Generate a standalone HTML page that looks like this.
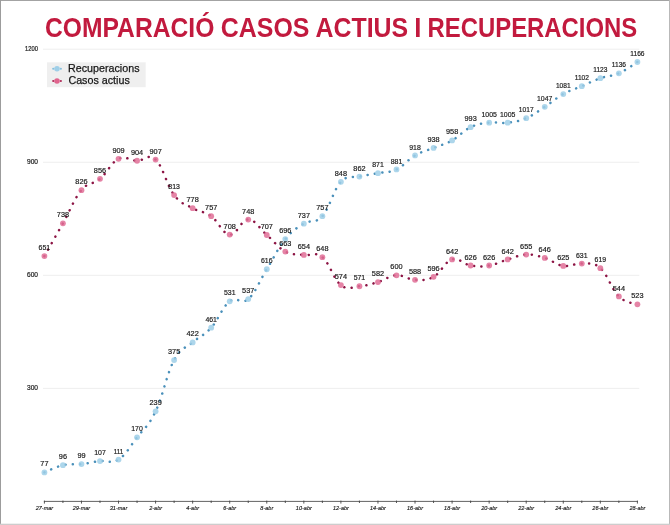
<!DOCTYPE html>
<html lang="ca"><head><meta charset="utf-8"><title>Comparació casos actius i recuperacions</title>
<style>
html,body{margin:0;padding:0;background:#fff;}
body{width:670px;height:525px;overflow:hidden;position:relative;font-family:"Liberation Sans",sans-serif;}
svg{position:absolute;left:0;top:0;display:block;}
text{font-family:"Liberation Sans",sans-serif;}
</style></head><body>
<svg width="670" height="525" viewBox="0 0 670 525">
<rect x="0" y="0" width="670" height="525" fill="#ffffff"/>

<line x1="43" x2="639.3" y1="388.35" y2="388.35" stroke="#eeeeee" stroke-width="1"/>
<text transform="translate(38,390.25) scale(1.00,1)" font-size="6.6" text-anchor="end" fill="#222" stroke="#222" stroke-width="0.2">300</text>
<line x1="43" x2="639.3" y1="275.30" y2="275.30" stroke="#eeeeee" stroke-width="1"/>
<text transform="translate(38,277.20) scale(1.00,1)" font-size="6.6" text-anchor="end" fill="#222" stroke="#222" stroke-width="0.2">600</text>
<line x1="43" x2="639.3" y1="162.25" y2="162.25" stroke="#eeeeee" stroke-width="1"/>
<text transform="translate(38,164.15) scale(1.00,1)" font-size="6.6" text-anchor="end" fill="#222" stroke="#222" stroke-width="0.2">900</text>
<line x1="43" x2="639.3" y1="49.20" y2="49.20" stroke="#eeeeee" stroke-width="1"/>
<text transform="translate(38,51.10) scale(0.88,1)" font-size="6.6" text-anchor="end" fill="#222" stroke="#222" stroke-width="0.2">1200</text>
<text y="37.0" font-size="27.8" font-weight="bold" fill="#c21a3e"><tspan x="45.00" textLength="169.33" lengthAdjust="spacingAndGlyphs">COMPARACIÓ</tspan> <tspan x="220.79" textLength="88.60" lengthAdjust="spacingAndGlyphs">CASOS</tspan> <tspan x="315.53" textLength="92.65" lengthAdjust="spacingAndGlyphs">ACTIUS</tspan> <tspan x="414.17" textLength="7.15" lengthAdjust="spacingAndGlyphs">I</tspan> <tspan x="427.49" textLength="209.81" lengthAdjust="spacingAndGlyphs">RECUPERACIONS</tspan></text>
<rect x="47" y="62.3" width="98.7" height="24.9" fill="#efefef"/>
<line x1="53.2" x2="60.9" y1="68.7" y2="68.7" stroke="#86c0de" stroke-width="2.1" stroke-linecap="round" stroke-dasharray="0.1 7.5"/>
<circle cx="57" cy="68.7" r="2.8" fill="#9fcfe8"/>
<text x="68.08" y="72.1" font-size="11.7" fill="#161616" stroke="#161616" stroke-width="0.25" textLength="71.45" lengthAdjust="spacingAndGlyphs">Recuperacions</text>
<line x1="53.2" x2="60.9" y1="81.0" y2="81.0" stroke="#b02a58" stroke-width="2.1" stroke-linecap="round" stroke-dasharray="0.1 7.5"/>
<circle cx="57" cy="81.0" r="2.8" fill="#e0648e"/>
<text x="68.43" y="84.4" font-size="11.7" fill="#161616" stroke="#161616" stroke-width="0.25" textLength="61.36" lengthAdjust="spacingAndGlyphs">Casos actius</text>
<line x1="43.9" x2="637.9" y1="501.4" y2="501.4" stroke="#3a3a3a" stroke-width="0.8"/>
<line x1="44.40" x2="44.40" y1="500.6" y2="503.6" stroke="#444" stroke-width="0.9"/>
<text transform="translate(44.40,509.8) scale(0.97,1)" font-size="5.7" font-style="italic" text-anchor="middle" fill="#222" stroke="#222" stroke-width="0.15">27-mar</text>
<line x1="62.93" x2="62.93" y1="500.6" y2="503.0" stroke="#444" stroke-width="0.9"/>
<line x1="81.46" x2="81.46" y1="500.6" y2="503.6" stroke="#444" stroke-width="0.9"/>
<text transform="translate(81.46,509.8) scale(0.97,1)" font-size="5.7" font-style="italic" text-anchor="middle" fill="#222" stroke="#222" stroke-width="0.15">29-mar</text>
<line x1="99.99" x2="99.99" y1="500.6" y2="503.0" stroke="#444" stroke-width="0.9"/>
<line x1="118.53" x2="118.53" y1="500.6" y2="503.6" stroke="#444" stroke-width="0.9"/>
<text transform="translate(118.53,509.8) scale(0.97,1)" font-size="5.7" font-style="italic" text-anchor="middle" fill="#222" stroke="#222" stroke-width="0.15">31-mar</text>
<line x1="137.06" x2="137.06" y1="500.6" y2="503.0" stroke="#444" stroke-width="0.9"/>
<line x1="155.59" x2="155.59" y1="500.6" y2="503.6" stroke="#444" stroke-width="0.9"/>
<text transform="translate(155.59,509.8) scale(0.97,1)" font-size="5.7" font-style="italic" text-anchor="middle" fill="#222" stroke="#222" stroke-width="0.15">2-abr</text>
<line x1="174.12" x2="174.12" y1="500.6" y2="503.0" stroke="#444" stroke-width="0.9"/>
<line x1="192.65" x2="192.65" y1="500.6" y2="503.6" stroke="#444" stroke-width="0.9"/>
<text transform="translate(192.65,509.8) scale(0.97,1)" font-size="5.7" font-style="italic" text-anchor="middle" fill="#222" stroke="#222" stroke-width="0.15">4-abr</text>
<line x1="211.18" x2="211.18" y1="500.6" y2="503.0" stroke="#444" stroke-width="0.9"/>
<line x1="229.71" x2="229.71" y1="500.6" y2="503.6" stroke="#444" stroke-width="0.9"/>
<text transform="translate(229.71,509.8) scale(0.97,1)" font-size="5.7" font-style="italic" text-anchor="middle" fill="#222" stroke="#222" stroke-width="0.15">6-abr</text>
<line x1="248.24" x2="248.24" y1="500.6" y2="503.0" stroke="#444" stroke-width="0.9"/>
<line x1="266.77" x2="266.77" y1="500.6" y2="503.6" stroke="#444" stroke-width="0.9"/>
<text transform="translate(266.77,509.8) scale(0.97,1)" font-size="5.7" font-style="italic" text-anchor="middle" fill="#222" stroke="#222" stroke-width="0.15">8-abr</text>
<line x1="285.31" x2="285.31" y1="500.6" y2="503.0" stroke="#444" stroke-width="0.9"/>
<line x1="303.84" x2="303.84" y1="500.6" y2="503.6" stroke="#444" stroke-width="0.9"/>
<text transform="translate(303.84,509.8) scale(0.97,1)" font-size="5.7" font-style="italic" text-anchor="middle" fill="#222" stroke="#222" stroke-width="0.15">10-abr</text>
<line x1="322.37" x2="322.37" y1="500.6" y2="503.0" stroke="#444" stroke-width="0.9"/>
<line x1="340.90" x2="340.90" y1="500.6" y2="503.6" stroke="#444" stroke-width="0.9"/>
<text transform="translate(340.90,509.8) scale(0.97,1)" font-size="5.7" font-style="italic" text-anchor="middle" fill="#222" stroke="#222" stroke-width="0.15">12-abr</text>
<line x1="359.43" x2="359.43" y1="500.6" y2="503.0" stroke="#444" stroke-width="0.9"/>
<line x1="377.96" x2="377.96" y1="500.6" y2="503.6" stroke="#444" stroke-width="0.9"/>
<text transform="translate(377.96,509.8) scale(0.97,1)" font-size="5.7" font-style="italic" text-anchor="middle" fill="#222" stroke="#222" stroke-width="0.15">14-abr</text>
<line x1="396.49" x2="396.49" y1="500.6" y2="503.0" stroke="#444" stroke-width="0.9"/>
<line x1="415.02" x2="415.02" y1="500.6" y2="503.6" stroke="#444" stroke-width="0.9"/>
<text transform="translate(415.02,509.8) scale(0.97,1)" font-size="5.7" font-style="italic" text-anchor="middle" fill="#222" stroke="#222" stroke-width="0.15">16-abr</text>
<line x1="433.56" x2="433.56" y1="500.6" y2="503.0" stroke="#444" stroke-width="0.9"/>
<line x1="452.09" x2="452.09" y1="500.6" y2="503.6" stroke="#444" stroke-width="0.9"/>
<text transform="translate(452.09,509.8) scale(0.97,1)" font-size="5.7" font-style="italic" text-anchor="middle" fill="#222" stroke="#222" stroke-width="0.15">18-abr</text>
<line x1="470.62" x2="470.62" y1="500.6" y2="503.0" stroke="#444" stroke-width="0.9"/>
<line x1="489.15" x2="489.15" y1="500.6" y2="503.6" stroke="#444" stroke-width="0.9"/>
<text transform="translate(489.15,509.8) scale(0.97,1)" font-size="5.7" font-style="italic" text-anchor="middle" fill="#222" stroke="#222" stroke-width="0.15">20-abr</text>
<line x1="507.68" x2="507.68" y1="500.6" y2="503.0" stroke="#444" stroke-width="0.9"/>
<line x1="526.21" x2="526.21" y1="500.6" y2="503.6" stroke="#444" stroke-width="0.9"/>
<text transform="translate(526.21,509.8) scale(0.97,1)" font-size="5.7" font-style="italic" text-anchor="middle" fill="#222" stroke="#222" stroke-width="0.15">22-abr</text>
<line x1="544.74" x2="544.74" y1="500.6" y2="503.0" stroke="#444" stroke-width="0.9"/>
<line x1="563.27" x2="563.27" y1="500.6" y2="503.6" stroke="#444" stroke-width="0.9"/>
<text transform="translate(563.27,509.8) scale(0.97,1)" font-size="5.7" font-style="italic" text-anchor="middle" fill="#222" stroke="#222" stroke-width="0.15">24-abr</text>
<line x1="581.81" x2="581.81" y1="500.6" y2="503.0" stroke="#444" stroke-width="0.9"/>
<line x1="600.34" x2="600.34" y1="500.6" y2="503.6" stroke="#444" stroke-width="0.9"/>
<text transform="translate(600.34,509.8) scale(0.97,1)" font-size="5.7" font-style="italic" text-anchor="middle" fill="#222" stroke="#222" stroke-width="0.15">26-abr</text>
<line x1="618.87" x2="618.87" y1="500.6" y2="503.0" stroke="#444" stroke-width="0.9"/>
<line x1="637.40" x2="637.40" y1="500.6" y2="503.6" stroke="#444" stroke-width="0.9"/>
<text transform="translate(637.40,509.8) scale(0.97,1)" font-size="5.7" font-style="italic" text-anchor="middle" fill="#222" stroke="#222" stroke-width="0.15">28-abr</text>
<path d="M44.40,256.08 C48.11,249.52 55.52,236.49 62.93,223.30 C70.34,210.11 74.05,199.03 81.46,190.14 C88.88,181.24 92.58,185.09 99.99,178.83 C107.41,172.58 111.11,162.48 118.53,158.86 C125.94,155.24 129.64,160.59 137.06,160.74 C144.47,160.89 148.18,152.75 155.59,159.61 C163.00,166.47 166.71,185.31 174.12,195.03 C181.53,204.76 185.24,204.00 192.65,208.22 C200.06,212.44 203.77,210.86 211.18,216.14 C218.59,221.41 222.30,233.92 229.71,234.60 C237.12,235.28 240.83,219.45 248.24,219.53 C255.66,219.60 259.36,228.57 266.77,234.98 C274.19,241.39 277.89,247.57 285.31,251.56 C292.72,255.55 296.42,253.82 303.84,254.95 C311.25,256.08 314.96,251.18 322.37,257.21 C329.78,263.24 333.49,279.29 340.90,285.10 C348.31,290.90 352.02,286.83 359.43,286.23 C366.84,285.63 370.55,284.27 377.96,282.08 C385.38,279.90 389.08,275.75 396.49,275.30 C403.91,274.85 407.61,279.52 415.02,279.82 C422.44,280.12 426.14,280.88 433.56,276.81 C440.97,272.74 444.67,261.73 452.09,259.47 C459.50,257.21 463.21,264.30 470.62,265.50 C478.03,266.71 481.74,266.71 489.15,265.50 C496.56,264.30 500.27,261.66 507.68,259.47 C515.09,257.29 518.80,254.88 526.21,254.57 C533.62,254.27 537.33,255.70 544.74,257.97 C552.16,260.23 555.86,264.75 563.27,265.88 C570.69,267.01 574.39,263.17 581.81,263.62 C589.22,264.07 592.92,261.58 600.34,268.14 C607.75,274.70 611.46,289.17 618.87,296.40 C626.28,303.64 633.69,302.73 637.40,304.32" fill="none" stroke="#8c1444" stroke-width="2.5" stroke-linecap="round" stroke-dasharray="0.1 7.35"/>
<circle cx="44.40" cy="256.08" r="2.9" fill="#e06e96" fill-opacity="0.85"/>
<circle cx="62.93" cy="223.30" r="2.9" fill="#e06e96" fill-opacity="0.85"/>
<circle cx="81.46" cy="190.14" r="2.9" fill="#e06e96" fill-opacity="0.85"/>
<circle cx="99.99" cy="178.83" r="2.9" fill="#e06e96" fill-opacity="0.85"/>
<circle cx="118.53" cy="158.86" r="2.9" fill="#e06e96" fill-opacity="0.85"/>
<circle cx="137.06" cy="160.74" r="2.9" fill="#e06e96" fill-opacity="0.85"/>
<circle cx="155.59" cy="159.61" r="2.9" fill="#e06e96" fill-opacity="0.85"/>
<circle cx="174.12" cy="195.03" r="2.9" fill="#e06e96" fill-opacity="0.85"/>
<circle cx="192.65" cy="208.22" r="2.9" fill="#e06e96" fill-opacity="0.85"/>
<circle cx="211.18" cy="216.14" r="2.9" fill="#e06e96" fill-opacity="0.85"/>
<circle cx="229.71" cy="234.60" r="2.9" fill="#e06e96" fill-opacity="0.85"/>
<circle cx="248.24" cy="219.53" r="2.9" fill="#e06e96" fill-opacity="0.85"/>
<circle cx="266.77" cy="234.98" r="2.9" fill="#e06e96" fill-opacity="0.85"/>
<circle cx="285.31" cy="251.56" r="2.9" fill="#e06e96" fill-opacity="0.85"/>
<circle cx="303.84" cy="254.95" r="2.9" fill="#e06e96" fill-opacity="0.85"/>
<circle cx="322.37" cy="257.21" r="2.9" fill="#e06e96" fill-opacity="0.85"/>
<circle cx="340.90" cy="285.10" r="2.9" fill="#e06e96" fill-opacity="0.85"/>
<circle cx="359.43" cy="286.23" r="2.9" fill="#e06e96" fill-opacity="0.85"/>
<circle cx="377.96" cy="282.08" r="2.9" fill="#e06e96" fill-opacity="0.85"/>
<circle cx="396.49" cy="275.30" r="2.9" fill="#e06e96" fill-opacity="0.85"/>
<circle cx="415.02" cy="279.82" r="2.9" fill="#e06e96" fill-opacity="0.85"/>
<circle cx="433.56" cy="276.81" r="2.9" fill="#e06e96" fill-opacity="0.85"/>
<circle cx="452.09" cy="259.47" r="2.9" fill="#e06e96" fill-opacity="0.85"/>
<circle cx="470.62" cy="265.50" r="2.9" fill="#e06e96" fill-opacity="0.85"/>
<circle cx="489.15" cy="265.50" r="2.9" fill="#e06e96" fill-opacity="0.85"/>
<circle cx="507.68" cy="259.47" r="2.9" fill="#e06e96" fill-opacity="0.85"/>
<circle cx="526.21" cy="254.57" r="2.9" fill="#e06e96" fill-opacity="0.85"/>
<circle cx="544.74" cy="257.97" r="2.9" fill="#e06e96" fill-opacity="0.85"/>
<circle cx="563.27" cy="265.88" r="2.9" fill="#e06e96" fill-opacity="0.85"/>
<circle cx="581.81" cy="263.62" r="2.9" fill="#e06e96" fill-opacity="0.85"/>
<circle cx="600.34" cy="268.14" r="2.9" fill="#e06e96" fill-opacity="0.85"/>
<circle cx="618.87" cy="296.40" r="2.9" fill="#e06e96" fill-opacity="0.85"/>
<circle cx="637.40" cy="304.32" r="2.9" fill="#e06e96" fill-opacity="0.85"/>
<path d="M44.40,472.38 C48.11,470.95 55.52,466.88 62.93,465.22 C70.34,463.57 74.05,464.92 81.46,464.09 C88.88,463.26 92.58,461.98 99.99,461.08 C107.41,460.17 111.11,464.32 118.53,459.57 C125.94,454.82 129.64,446.99 137.06,437.34 C144.47,427.69 148.18,426.79 155.59,411.34 C163.00,395.89 166.71,373.88 174.12,360.09 C181.53,346.30 185.24,348.86 192.65,342.38 C200.06,335.89 203.77,335.89 211.18,327.68 C218.59,319.46 222.30,307.03 229.71,301.30 C237.12,295.57 240.83,305.45 248.24,299.04 C255.66,292.63 259.36,281.25 266.77,269.27 C274.19,257.29 277.89,248.24 285.31,239.12 C292.72,230.00 296.42,228.27 303.84,223.67 C311.25,219.08 314.96,224.50 322.37,216.14 C329.78,207.77 333.49,189.76 340.90,181.85 C348.31,173.93 352.02,178.30 359.43,176.57 C366.84,174.84 370.55,174.61 377.96,173.18 C385.38,171.75 389.08,172.95 396.49,169.41 C403.91,165.87 407.61,159.76 415.02,155.47 C422.44,151.17 426.14,150.95 433.56,147.93 C440.97,144.92 444.67,144.54 452.09,140.39 C459.50,136.25 463.21,130.75 470.62,127.20 C478.03,123.66 481.74,123.59 489.15,122.68 C496.56,121.78 500.27,123.59 507.68,122.68 C515.09,121.78 518.80,121.33 526.21,118.16 C533.62,115.00 537.33,111.68 544.74,106.86 C552.16,102.03 555.86,98.19 563.27,94.04 C570.69,89.90 574.39,89.30 581.81,86.13 C589.22,82.96 592.92,80.78 600.34,78.22 C607.75,75.65 611.46,76.56 618.87,73.32 C626.28,70.08 633.69,64.27 637.40,62.01" fill="none" stroke="#4a90ba" stroke-width="2.5" stroke-linecap="round" stroke-dasharray="0.1 7.35"/>
<circle cx="44.40" cy="472.38" r="2.9" fill="#9fcfe8" fill-opacity="0.85"/>
<circle cx="62.93" cy="465.22" r="2.9" fill="#9fcfe8" fill-opacity="0.85"/>
<circle cx="81.46" cy="464.09" r="2.9" fill="#9fcfe8" fill-opacity="0.85"/>
<circle cx="99.99" cy="461.08" r="2.9" fill="#9fcfe8" fill-opacity="0.85"/>
<circle cx="118.53" cy="459.57" r="2.9" fill="#9fcfe8" fill-opacity="0.85"/>
<circle cx="137.06" cy="437.34" r="2.9" fill="#9fcfe8" fill-opacity="0.85"/>
<circle cx="155.59" cy="411.34" r="2.9" fill="#9fcfe8" fill-opacity="0.85"/>
<circle cx="174.12" cy="360.09" r="2.9" fill="#9fcfe8" fill-opacity="0.85"/>
<circle cx="192.65" cy="342.38" r="2.9" fill="#9fcfe8" fill-opacity="0.85"/>
<circle cx="211.18" cy="327.68" r="2.9" fill="#9fcfe8" fill-opacity="0.85"/>
<circle cx="229.71" cy="301.30" r="2.9" fill="#9fcfe8" fill-opacity="0.85"/>
<circle cx="248.24" cy="299.04" r="2.9" fill="#9fcfe8" fill-opacity="0.85"/>
<circle cx="266.77" cy="269.27" r="2.9" fill="#9fcfe8" fill-opacity="0.85"/>
<circle cx="285.31" cy="239.12" r="2.9" fill="#9fcfe8" fill-opacity="0.85"/>
<circle cx="303.84" cy="223.67" r="2.9" fill="#9fcfe8" fill-opacity="0.85"/>
<circle cx="322.37" cy="216.14" r="2.9" fill="#9fcfe8" fill-opacity="0.85"/>
<circle cx="340.90" cy="181.85" r="2.9" fill="#9fcfe8" fill-opacity="0.85"/>
<circle cx="359.43" cy="176.57" r="2.9" fill="#9fcfe8" fill-opacity="0.85"/>
<circle cx="377.96" cy="173.18" r="2.9" fill="#9fcfe8" fill-opacity="0.85"/>
<circle cx="396.49" cy="169.41" r="2.9" fill="#9fcfe8" fill-opacity="0.85"/>
<circle cx="415.02" cy="155.47" r="2.9" fill="#9fcfe8" fill-opacity="0.85"/>
<circle cx="433.56" cy="147.93" r="2.9" fill="#9fcfe8" fill-opacity="0.85"/>
<circle cx="452.09" cy="140.39" r="2.9" fill="#9fcfe8" fill-opacity="0.85"/>
<circle cx="470.62" cy="127.20" r="2.9" fill="#9fcfe8" fill-opacity="0.85"/>
<circle cx="489.15" cy="122.68" r="2.9" fill="#9fcfe8" fill-opacity="0.85"/>
<circle cx="507.68" cy="122.68" r="2.9" fill="#9fcfe8" fill-opacity="0.85"/>
<circle cx="526.21" cy="118.16" r="2.9" fill="#9fcfe8" fill-opacity="0.85"/>
<circle cx="544.74" cy="106.86" r="2.9" fill="#9fcfe8" fill-opacity="0.85"/>
<circle cx="563.27" cy="94.04" r="2.9" fill="#9fcfe8" fill-opacity="0.85"/>
<circle cx="581.81" cy="86.13" r="2.9" fill="#9fcfe8" fill-opacity="0.85"/>
<circle cx="600.34" cy="78.22" r="2.9" fill="#9fcfe8" fill-opacity="0.85"/>
<circle cx="618.87" cy="73.32" r="2.9" fill="#9fcfe8" fill-opacity="0.85"/>
<circle cx="637.40" cy="62.01" r="2.9" fill="#9fcfe8" fill-opacity="0.85"/>
<text transform="translate(44.40,250.18) scale(0.87,1)" font-size="8.0" text-anchor="middle" fill="#1c1c1c" stroke="#1c1c1c" stroke-width="0.20">651</text>
<text transform="translate(62.93,217.40) scale(0.92,1)" font-size="8.0" text-anchor="middle" fill="#1c1c1c" stroke="#1c1c1c" stroke-width="0.20">738</text>
<text transform="translate(81.46,184.24) scale(0.92,1)" font-size="8.0" text-anchor="middle" fill="#1c1c1c" stroke="#1c1c1c" stroke-width="0.20">826</text>
<text transform="translate(99.99,172.93) scale(0.92,1)" font-size="8.0" text-anchor="middle" fill="#1c1c1c" stroke="#1c1c1c" stroke-width="0.20">856</text>
<text transform="translate(118.53,152.96) scale(0.92,1)" font-size="8.0" text-anchor="middle" fill="#1c1c1c" stroke="#1c1c1c" stroke-width="0.20">909</text>
<text transform="translate(137.06,154.84) scale(0.92,1)" font-size="8.0" text-anchor="middle" fill="#1c1c1c" stroke="#1c1c1c" stroke-width="0.20">904</text>
<text transform="translate(155.59,153.71) scale(0.92,1)" font-size="8.0" text-anchor="middle" fill="#1c1c1c" stroke="#1c1c1c" stroke-width="0.20">907</text>
<text transform="translate(174.12,189.13) scale(0.87,1)" font-size="8.0" text-anchor="middle" fill="#1c1c1c" stroke="#1c1c1c" stroke-width="0.20">813</text>
<text transform="translate(192.65,202.32) scale(0.92,1)" font-size="8.0" text-anchor="middle" fill="#1c1c1c" stroke="#1c1c1c" stroke-width="0.20">778</text>
<text transform="translate(211.18,210.24) scale(0.92,1)" font-size="8.0" text-anchor="middle" fill="#1c1c1c" stroke="#1c1c1c" stroke-width="0.20">757</text>
<text transform="translate(229.71,228.70) scale(0.92,1)" font-size="8.0" text-anchor="middle" fill="#1c1c1c" stroke="#1c1c1c" stroke-width="0.20">708</text>
<text transform="translate(248.24,213.63) scale(0.92,1)" font-size="8.0" text-anchor="middle" fill="#1c1c1c" stroke="#1c1c1c" stroke-width="0.20">748</text>
<text transform="translate(266.77,229.08) scale(0.92,1)" font-size="8.0" text-anchor="middle" fill="#1c1c1c" stroke="#1c1c1c" stroke-width="0.20">707</text>
<text transform="translate(285.31,245.66) scale(0.92,1)" font-size="8.0" text-anchor="middle" fill="#1c1c1c" stroke="#1c1c1c" stroke-width="0.20">663</text>
<text transform="translate(303.84,249.05) scale(0.92,1)" font-size="8.0" text-anchor="middle" fill="#1c1c1c" stroke="#1c1c1c" stroke-width="0.20">654</text>
<text transform="translate(322.37,251.31) scale(0.92,1)" font-size="8.0" text-anchor="middle" fill="#1c1c1c" stroke="#1c1c1c" stroke-width="0.20">648</text>
<text transform="translate(340.90,279.20) scale(0.92,1)" font-size="8.0" text-anchor="middle" fill="#1c1c1c" stroke="#1c1c1c" stroke-width="0.20">574</text>
<text transform="translate(359.43,280.33) scale(0.87,1)" font-size="8.0" text-anchor="middle" fill="#1c1c1c" stroke="#1c1c1c" stroke-width="0.20">571</text>
<text transform="translate(377.96,276.18) scale(0.92,1)" font-size="8.0" text-anchor="middle" fill="#1c1c1c" stroke="#1c1c1c" stroke-width="0.20">582</text>
<text transform="translate(396.49,269.40) scale(0.92,1)" font-size="8.0" text-anchor="middle" fill="#1c1c1c" stroke="#1c1c1c" stroke-width="0.20">600</text>
<text transform="translate(415.02,273.92) scale(0.92,1)" font-size="8.0" text-anchor="middle" fill="#1c1c1c" stroke="#1c1c1c" stroke-width="0.20">588</text>
<text transform="translate(433.56,270.91) scale(0.92,1)" font-size="8.0" text-anchor="middle" fill="#1c1c1c" stroke="#1c1c1c" stroke-width="0.20">596</text>
<text transform="translate(452.09,253.57) scale(0.92,1)" font-size="8.0" text-anchor="middle" fill="#1c1c1c" stroke="#1c1c1c" stroke-width="0.20">642</text>
<text transform="translate(470.62,259.60) scale(0.92,1)" font-size="8.0" text-anchor="middle" fill="#1c1c1c" stroke="#1c1c1c" stroke-width="0.20">626</text>
<text transform="translate(489.15,259.60) scale(0.92,1)" font-size="8.0" text-anchor="middle" fill="#1c1c1c" stroke="#1c1c1c" stroke-width="0.20">626</text>
<text transform="translate(507.68,253.57) scale(0.92,1)" font-size="8.0" text-anchor="middle" fill="#1c1c1c" stroke="#1c1c1c" stroke-width="0.20">642</text>
<text transform="translate(526.21,248.67) scale(0.92,1)" font-size="8.0" text-anchor="middle" fill="#1c1c1c" stroke="#1c1c1c" stroke-width="0.20">655</text>
<text transform="translate(544.74,252.07) scale(0.92,1)" font-size="8.0" text-anchor="middle" fill="#1c1c1c" stroke="#1c1c1c" stroke-width="0.20">646</text>
<text transform="translate(563.27,259.98) scale(0.92,1)" font-size="8.0" text-anchor="middle" fill="#1c1c1c" stroke="#1c1c1c" stroke-width="0.20">625</text>
<text transform="translate(581.81,257.72) scale(0.87,1)" font-size="8.0" text-anchor="middle" fill="#1c1c1c" stroke="#1c1c1c" stroke-width="0.20">631</text>
<text transform="translate(600.34,262.24) scale(0.87,1)" font-size="8.0" text-anchor="middle" fill="#1c1c1c" stroke="#1c1c1c" stroke-width="0.20">619</text>
<text transform="translate(618.87,290.50) scale(0.92,1)" font-size="8.0" text-anchor="middle" fill="#1c1c1c" stroke="#1c1c1c" stroke-width="0.20">544</text>
<text transform="translate(637.40,298.42) scale(0.92,1)" font-size="8.0" text-anchor="middle" fill="#1c1c1c" stroke="#1c1c1c" stroke-width="0.20">523</text>
<text transform="translate(44.40,466.48) scale(0.92,1)" font-size="8.0" text-anchor="middle" fill="#1c1c1c" stroke="#1c1c1c" stroke-width="0.20">77</text>
<text transform="translate(62.93,459.32) scale(0.92,1)" font-size="8.0" text-anchor="middle" fill="#1c1c1c" stroke="#1c1c1c" stroke-width="0.20">96</text>
<text transform="translate(81.46,458.19) scale(0.92,1)" font-size="8.0" text-anchor="middle" fill="#1c1c1c" stroke="#1c1c1c" stroke-width="0.20">99</text>
<text transform="translate(99.99,455.18) scale(0.87,1)" font-size="8.0" text-anchor="middle" fill="#1c1c1c" stroke="#1c1c1c" stroke-width="0.20">107</text>
<text transform="translate(118.53,453.67) scale(0.78,1)" font-size="8.0" text-anchor="middle" fill="#1c1c1c" stroke="#1c1c1c" stroke-width="0.20">111</text>
<text transform="translate(137.06,431.44) scale(0.87,1)" font-size="8.0" text-anchor="middle" fill="#1c1c1c" stroke="#1c1c1c" stroke-width="0.20">170</text>
<text transform="translate(155.59,405.44) scale(0.92,1)" font-size="8.0" text-anchor="middle" fill="#1c1c1c" stroke="#1c1c1c" stroke-width="0.20">239</text>
<text transform="translate(174.12,354.19) scale(0.92,1)" font-size="8.0" text-anchor="middle" fill="#1c1c1c" stroke="#1c1c1c" stroke-width="0.20">375</text>
<text transform="translate(192.65,336.48) scale(0.92,1)" font-size="8.0" text-anchor="middle" fill="#1c1c1c" stroke="#1c1c1c" stroke-width="0.20">422</text>
<text transform="translate(211.18,321.78) scale(0.87,1)" font-size="8.0" text-anchor="middle" fill="#1c1c1c" stroke="#1c1c1c" stroke-width="0.20">461</text>
<text transform="translate(229.71,295.40) scale(0.87,1)" font-size="8.0" text-anchor="middle" fill="#1c1c1c" stroke="#1c1c1c" stroke-width="0.20">531</text>
<text transform="translate(248.24,293.14) scale(0.92,1)" font-size="8.0" text-anchor="middle" fill="#1c1c1c" stroke="#1c1c1c" stroke-width="0.20">537</text>
<text transform="translate(266.77,263.37) scale(0.87,1)" font-size="8.0" text-anchor="middle" fill="#1c1c1c" stroke="#1c1c1c" stroke-width="0.20">616</text>
<text transform="translate(285.31,233.22) scale(0.92,1)" font-size="8.0" text-anchor="middle" fill="#1c1c1c" stroke="#1c1c1c" stroke-width="0.20">696</text>
<text transform="translate(303.84,217.77) scale(0.92,1)" font-size="8.0" text-anchor="middle" fill="#1c1c1c" stroke="#1c1c1c" stroke-width="0.20">737</text>
<text transform="translate(322.37,210.24) scale(0.92,1)" font-size="8.0" text-anchor="middle" fill="#1c1c1c" stroke="#1c1c1c" stroke-width="0.20">757</text>
<text transform="translate(340.90,175.95) scale(0.92,1)" font-size="8.0" text-anchor="middle" fill="#1c1c1c" stroke="#1c1c1c" stroke-width="0.20">848</text>
<text transform="translate(359.43,170.67) scale(0.92,1)" font-size="8.0" text-anchor="middle" fill="#1c1c1c" stroke="#1c1c1c" stroke-width="0.20">862</text>
<text transform="translate(377.96,167.28) scale(0.87,1)" font-size="8.0" text-anchor="middle" fill="#1c1c1c" stroke="#1c1c1c" stroke-width="0.20">871</text>
<text transform="translate(396.49,163.51) scale(0.87,1)" font-size="8.0" text-anchor="middle" fill="#1c1c1c" stroke="#1c1c1c" stroke-width="0.20">881</text>
<text transform="translate(415.02,149.57) scale(0.87,1)" font-size="8.0" text-anchor="middle" fill="#1c1c1c" stroke="#1c1c1c" stroke-width="0.20">918</text>
<text transform="translate(433.56,142.03) scale(0.92,1)" font-size="8.0" text-anchor="middle" fill="#1c1c1c" stroke="#1c1c1c" stroke-width="0.20">938</text>
<text transform="translate(452.09,134.49) scale(0.92,1)" font-size="8.0" text-anchor="middle" fill="#1c1c1c" stroke="#1c1c1c" stroke-width="0.20">958</text>
<text transform="translate(470.62,121.30) scale(0.92,1)" font-size="8.0" text-anchor="middle" fill="#1c1c1c" stroke="#1c1c1c" stroke-width="0.20">993</text>
<text transform="translate(489.15,116.78) scale(0.87,1)" font-size="8.0" text-anchor="middle" fill="#1c1c1c" stroke="#1c1c1c" stroke-width="0.20">1005</text>
<text transform="translate(507.68,116.78) scale(0.87,1)" font-size="8.0" text-anchor="middle" fill="#1c1c1c" stroke="#1c1c1c" stroke-width="0.20">1005</text>
<text transform="translate(526.21,112.26) scale(0.83,1)" font-size="8.0" text-anchor="middle" fill="#1c1c1c" stroke="#1c1c1c" stroke-width="0.20">1017</text>
<text transform="translate(544.74,100.96) scale(0.87,1)" font-size="8.0" text-anchor="middle" fill="#1c1c1c" stroke="#1c1c1c" stroke-width="0.20">1047</text>
<text transform="translate(563.27,88.14) scale(0.83,1)" font-size="8.0" text-anchor="middle" fill="#1c1c1c" stroke="#1c1c1c" stroke-width="0.20">1081</text>
<text transform="translate(581.81,80.23) scale(0.83,1)" font-size="8.0" text-anchor="middle" fill="#1c1c1c" stroke="#1c1c1c" stroke-width="0.20">1102</text>
<text transform="translate(600.34,72.32) scale(0.83,1)" font-size="8.0" text-anchor="middle" fill="#1c1c1c" stroke="#1c1c1c" stroke-width="0.20">1123</text>
<text transform="translate(618.87,67.42) scale(0.83,1)" font-size="8.0" text-anchor="middle" fill="#1c1c1c" stroke="#1c1c1c" stroke-width="0.20">1136</text>
<text transform="translate(637.40,56.11) scale(0.83,1)" font-size="8.0" text-anchor="middle" fill="#1c1c1c" stroke="#1c1c1c" stroke-width="0.20">1166</text>
<rect x="0" y="0" width="670" height="1" fill="#a3a3a3"/>
<rect x="0" y="0" width="1" height="525" fill="#9c9c9c"/>
<rect x="669" y="0" width="1" height="525" fill="#b9b9b9"/>
<rect x="0" y="523.7" width="670" height="1.3" fill="#cdcdcd"/>
</svg>
</body></html>
